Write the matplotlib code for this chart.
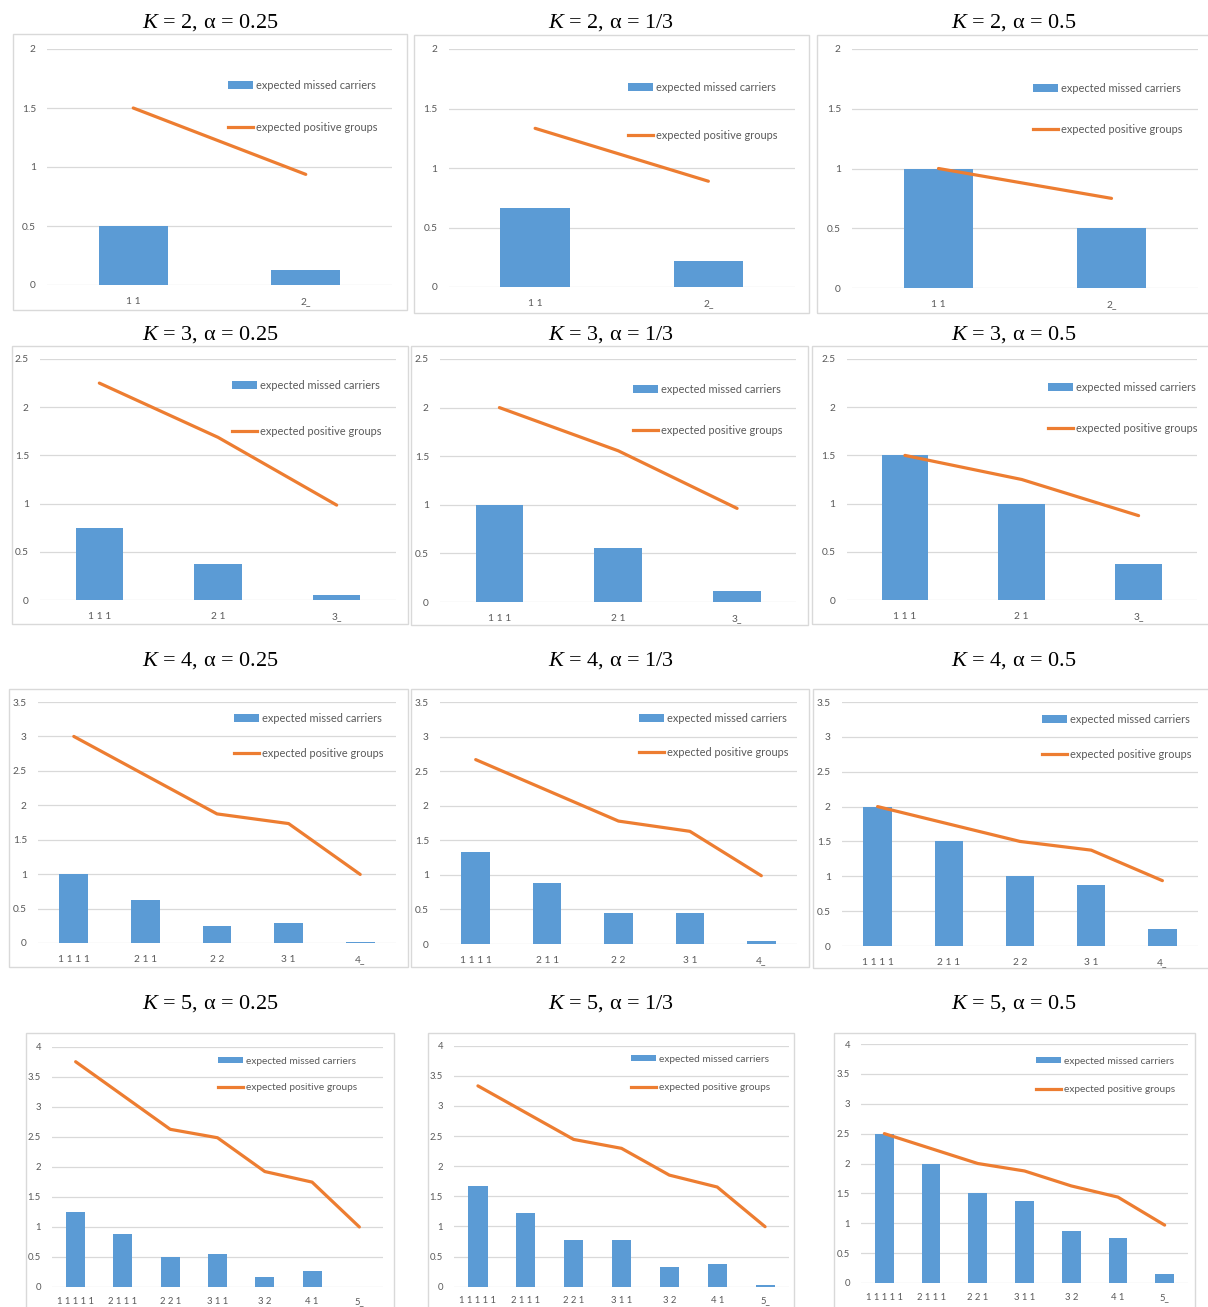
import matplotlib
matplotlib.use('Agg')
import matplotlib.pyplot as plt
from matplotlib.patches import Rectangle, Patch
from matplotlib.lines import Line2D

plt.rcParams['mathtext.fontset'] = 'custom'
plt.rcParams['mathtext.it'] = 'Liberation Serif:italic'
plt.rcParams['mathtext.rm'] = 'Liberation Serif'

# ---------------- data ----------------
alphas = ["0.25", "1/3", "0.5"]
Ks = [2, 3, 4, 5]

cats_K2 = ["1 1", "2_"]
cats_K3 = ["1 1 1", "2 1", "3_"]
cats_K4 = ["1 1 1 1", "2 1 1", "2 2", "3 1", "4_"]
cats_K5 = ["1 1 1 1 1", "2 1 1 1", "2 2 1", "3 1 1", "3 2", "4 1", "5_"]

missed_K2_a025 = [0.5, 0.125]
missed_K2_a033 = [0.6667, 0.2222]
missed_K2_a050 = [1.0, 0.5]
positive_K2_a025 = [1.5, 0.9375]
positive_K2_a033 = [1.3333, 0.8889]
positive_K2_a050 = [1.0, 0.75]

missed_K3_a025 = [0.75, 0.375, 0.0469]
missed_K3_a033 = [1.0, 0.5556, 0.1111]
missed_K3_a050 = [1.5, 1.0, 0.375]
positive_K3_a025 = [2.25, 1.6875, 0.9844]
positive_K3_a033 = [2.0, 1.5556, 0.963]
positive_K3_a050 = [1.5, 1.25, 0.875]

missed_K4_a025 = [1.0, 0.625, 0.25, 0.2969, 0.0156]
missed_K4_a033 = [1.3333, 0.8889, 0.4444, 0.4444, 0.0494]
missed_K4_a050 = [2.0, 1.5, 1.0, 0.875, 0.25]
positive_K4_a025 = [3.0, 2.4375, 1.875, 1.7344, 0.9961]
positive_K4_a033 = [2.6667, 2.2222, 1.7778, 1.6296, 0.9877]
positive_K4_a050 = [2.0, 1.75, 1.5, 1.375, 0.9375]

missed_K5_a025 = [1.25, 0.875, 0.5, 0.5469, 0.1719, 0.2656, 0.0049]
missed_K5_a033 = [1.6667, 1.2222, 0.7778, 0.7778, 0.3333, 0.3827, 0.0206]
missed_K5_a050 = [2.5, 2.0, 1.5, 1.375, 0.875, 0.75, 0.1563]
positive_K5_a025 = [3.75, 3.1875, 2.625, 2.4844, 1.9219, 1.7461, 0.999]
positive_K5_a033 = [3.3333, 2.8889, 2.4444, 2.2963, 1.8519, 1.6543, 0.9959]
positive_K5_a050 = [2.5, 2.25, 2.0, 1.875, 1.625, 1.4375, 0.9688]

yticks_K2 = [0, 0.5, 1, 1.5, 2]
yticks_K3 = [0, 0.5, 1, 1.5, 2, 2.5]
yticks_K4 = [0, 0.5, 1, 1.5, 2, 2.5, 3, 3.5]
yticks_K5 = [0, 0.5, 1, 1.5, 2, 2.5, 3, 3.5, 4]
ytick_labels_K2 = ["0", "0.5", "1", "1.5", "2"]
ytick_labels_K3 = ["0", "0.5", "1", "1.5", "2", "2.5"]
ytick_labels_K4 = ["0", "0.5", "1", "1.5", "2", "2.5", "3", "3.5"]
ytick_labels_K5 = ["0", "0.5", "1", "1.5", "2", "2.5", "3", "3.5", "4"]

series_labels = ["expected missed carriers", "expected positive groups"]

cats = {2: cats_K2, 3: cats_K3, 4: cats_K4, 5: cats_K5}
missed = {
    (2, 0): missed_K2_a025, (2, 1): missed_K2_a033, (2, 2): missed_K2_a050,
    (3, 0): missed_K3_a025, (3, 1): missed_K3_a033, (3, 2): missed_K3_a050,
    (4, 0): missed_K4_a025, (4, 1): missed_K4_a033, (4, 2): missed_K4_a050,
    (5, 0): missed_K5_a025, (5, 1): missed_K5_a033, (5, 2): missed_K5_a050,
}
positive = {
    (2, 0): positive_K2_a025, (2, 1): positive_K2_a033, (2, 2): positive_K2_a050,
    (3, 0): positive_K3_a025, (3, 1): positive_K3_a033, (3, 2): positive_K3_a050,
    (4, 0): positive_K4_a025, (4, 1): positive_K4_a033, (4, 2): positive_K4_a050,
    (5, 0): positive_K5_a025, (5, 1): positive_K5_a033, (5, 2): positive_K5_a050,
}
yticks = {2: (yticks_K2, ytick_labels_K2), 3: (yticks_K3, ytick_labels_K3),
          4: (yticks_K4, ytick_labels_K4), 5: (yticks_K5, ytick_labels_K5)}

# ---------------- layout (pixels) ----------------
W, H = 1208, 1307
BLUE = '#5B9BD5'
ORANGE = '#ED7D31'
GRID = '#D9D9D9'
TXT = '#595959'
TICKFONT = 'Lato'

# plot areas: (left, right, top, bottom)
areas = {
    (2, 0): (47, 392, 49, 285), (2, 1): (448.5, 795, 49, 287), (2, 2): (852, 1198, 49, 288),
    (3, 0): (40, 396, 359, 600), (3, 1): (440, 796.5, 359, 602), (3, 2): (846.5, 1197, 359, 600),
    (4, 0): (38, 396, 702, 943), (4, 1): (440, 797, 702, 944), (4, 2): (842, 1198, 702, 946),
    (5, 0): (52, 383, 1046.7, 1287), (5, 1): (454, 789, 1045.7, 1286.7), (5, 2): (861, 1188, 1044, 1283),
}
# frames: (left, right, top, bottom)
frames = {
    (2, 0): (13, 407, 34, 310), (2, 1): (414, 808.5, 35, 313), (2, 2): (817, 1212, 35, 313),
    (3, 0): (11.5, 407.5, 346, 624), (3, 1): (411, 808, 346, 625), (3, 2): (812, 1212, 346, 624),
    (4, 0): (8.5, 407.5, 689, 967), (4, 1): (411, 808.5, 689, 967), (4, 2): (813, 1212, 689, 968),
    (5, 0): (25.5, 394, 1032.5, 1312), (5, 1): (427.5, 794, 1032.5, 1312), (5, 2): (834, 1195, 1032.5, 1312),
}
# legend: (handle left x, entry1 y, entry2 y)
legends = {
    (2, 0): (228, 86, 127), (2, 1): (628, 88, 135), (2, 2): (1033, 89, 129),
    (3, 0): (232, 386, 431), (3, 1): (633, 390, 430), (3, 2): (1048, 388, 428),
    (4, 0): (234, 719, 753), (4, 1): (639, 719, 752), (4, 2): (1042, 720, 754),
    (5, 0): (218, 1061, 1088), (5, 1): (631, 1059, 1088), (5, 2): (1036, 1061, 1090),
}
title_x = [210, 611, 1014]
title_base = {2: 28, 3: 340, 4: 666, 5: 1009}

fig = plt.figure(figsize=(W / 100, H / 100), dpi=100)

for K in Ks:
    for j, a in enumerate(alphas):
        key = (K, j)
        fl, fr, ft, fb = frames[key]
        fig.add_artist(Rectangle((fl / W, 1 - fb / H), (fr - fl) / W, (fb - ft) / H,
                                 transform=fig.transFigure, fill=False,
                                 edgecolor=GRID, lw=1.0, zorder=0))
        fig.text(title_x[j] / W, 1 - title_base[K] / H, r'$K$ = %d, α = %s' % (K, a),
                 ha='center', va='baseline', fontsize=16, family='Liberation Serif')

        l, r, t, b = areas[key]
        ax = fig.add_axes([l / W, 1 - b / H, (r - l) / W, (b - t) / H])
        ax.set_facecolor('none')
        c = cats[K]
        x = list(range(len(c)))
        ax.bar(x, missed[key], width=0.4, color=BLUE, zorder=2)
        ax.plot(x, positive[key], color=ORANGE, lw=2.3, solid_capstyle='round',
                solid_joinstyle='round', zorder=3)
        ax.set_xlim(-0.5, len(c) - 0.5)
        yt, ytl = yticks[K]
        ax.set_ylim(0, yt[-1])
        ax.set_yticks(yt)
        ax.set_yticklabels(ytl)
        ax.set_xticks(x)
        fs_tick = 7.3 if K < 5 else 6.8
        ax.set_xticklabels(c)
        for lab in ax.get_xticklabels() + ax.get_yticklabels():
            lab.set_fontsize(fs_tick)
            lab.set_color(TXT)
            lab.set_family(TICKFONT)
        ax.tick_params(axis='both', length=0)
        ax.tick_params(axis='y', pad=8)
        ax.tick_params(axis='x', pad=8.5 if K < 5 else 7.0)
        for s in ax.spines.values():
            s.set_visible(False)
        ax.yaxis.grid(True, color=GRID, lw=0.9)
        ax.set_axisbelow(True)

        hx, y1, y2 = legends[key]
        fsl = 7.9 if K < 5 else 7.3
        fpx = fsl * 100 / 72
        ls = (y2 - y1 - 0.9 * fpx) / fpx
        handles = [Patch(facecolor=BLUE, edgecolor='none'),
                   Line2D([], [], color=ORANGE, lw=2.3)]
        ax.legend(handles, series_labels, loc='center left',
                  bbox_to_anchor=(hx / W, 1 - ((y1 + y2) / 2) / H),
                  bbox_transform=fig.transFigure, frameon=False,
                  prop={'family': TICKFONT, 'size': fsl}, labelcolor=TXT,
                  handlelength=25 / fpx, handleheight=0.65, handletextpad=0.3,
                  borderpad=0, borderaxespad=0, labelspacing=ls)

fig.savefig('out.png', dpi=100)
